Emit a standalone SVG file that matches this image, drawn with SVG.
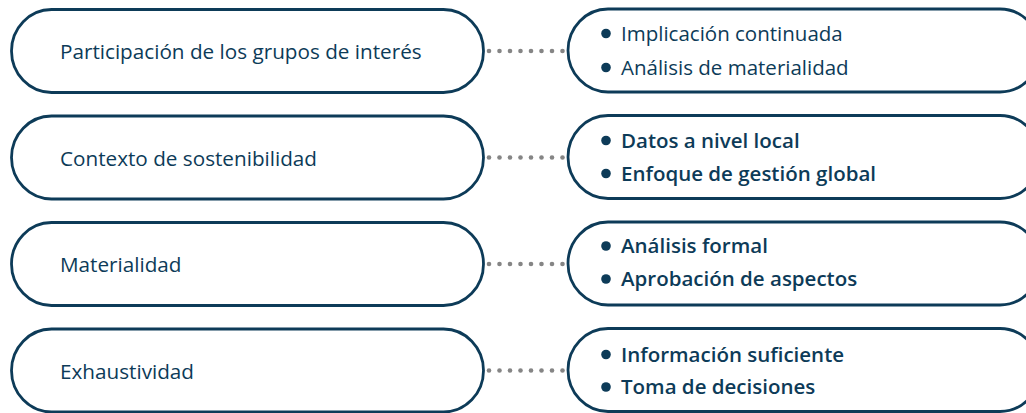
<svg xmlns="http://www.w3.org/2000/svg" width="1026" height="413" viewBox="0 0 1026 413">
<style>
.box{fill:#fff;stroke:#0d3b58;stroke-width:2.8}
.lt{font-family:"Open Sans","Noto Sans",sans-serif;font-size:20.7px;fill:#0d3b58}
.rt{font-family:"Open Sans","Noto Sans",sans-serif;font-size:20.5px;fill:#0d3b58}
.b{font-weight:600}
.bul{fill:#0d3b58}
.dot{fill:#858585}
</style>
<defs>
<g id="dots"><circle cx="489" cy="0" r="2.3"/><circle cx="499.5" cy="0" r="2.3"/><circle cx="510" cy="0" r="2.3"/><circle cx="520.5" cy="0" r="2.3"/><circle cx="531" cy="0" r="2.3"/><circle cx="541.5" cy="0" r="2.3"/><circle cx="552" cy="0" r="2.3"/><circle cx="562.5" cy="0" r="2.3"/></g>
</defs>
<rect width="1026" height="413" fill="#fff"/>
<g id="connectors" class="dot">
<use href="#dots" y="51"/>
<use href="#dots" y="157.5"/>
<use href="#dots" y="264"/>
<use href="#dots" y="370.5"/>
</g>
<g id="n1"><rect class="box" x="11.5" y="9.5" width="472" height="83" rx="40" ry="41.5"/><text class="lt" x="60" y="59">Participación de los grupos de interés</text></g>
<g id="n2"><rect class="box" x="11.5" y="116" width="472" height="83" rx="40" ry="41.5"/><text class="lt" x="60" y="165.5">Contexto de sostenibilidad</text></g>
<g id="n3"><rect class="box" x="11.5" y="222.5" width="472" height="83" rx="40" ry="41.5"/><text class="lt" x="60" y="272">Materialidad</text></g>
<g id="n4"><rect class="box" x="11.5" y="329" width="472" height="83" rx="40" ry="41.5"/><text class="lt" x="60" y="378.5">Exhaustividad</text></g>
<g id="r1"><rect class="box" x="568" y="9" width="472" height="83" rx="40" ry="41.5"/><circle class="bul" cx="606" cy="33.5" r="4.8"/><circle class="bul" cx="606" cy="67.5" r="4.8"/><text class="rt" x="621" y="40.5">Implicación continuada</text><text class="rt" x="621" y="74.5">Análisis de materialidad</text></g>
<g id="r2"><rect class="box" x="568" y="115.5" width="472" height="83" rx="40" ry="41.5"/><circle class="bul" cx="606" cy="140.5" r="4.8"/><circle class="bul" cx="606" cy="173.5" r="4.8"/><text class="rt b" x="621" y="147.5">Datos a nivel local</text><text class="rt b" x="621" y="180.5">Enfoque de gestión global</text></g>
<g id="r3"><rect class="box" x="568" y="222" width="472" height="83" rx="40" ry="41.5"/><circle class="bul" cx="606" cy="246" r="4.8"/><circle class="bul" cx="606" cy="279" r="4.8"/><text class="rt b" x="621" y="253">Análisis formal</text><text class="rt b" x="621" y="286">Aprobación de aspectos</text></g>
<g id="r4"><rect class="box" x="568" y="328.5" width="472" height="83" rx="40" ry="41.5"/><circle class="bul" cx="606" cy="354.5" r="4.8"/><circle class="bul" cx="606" cy="387" r="4.8"/><text class="rt b" x="621" y="361.5">Información suficiente</text><text class="rt b" x="621" y="394">Toma de decisiones</text></g>
</svg>
